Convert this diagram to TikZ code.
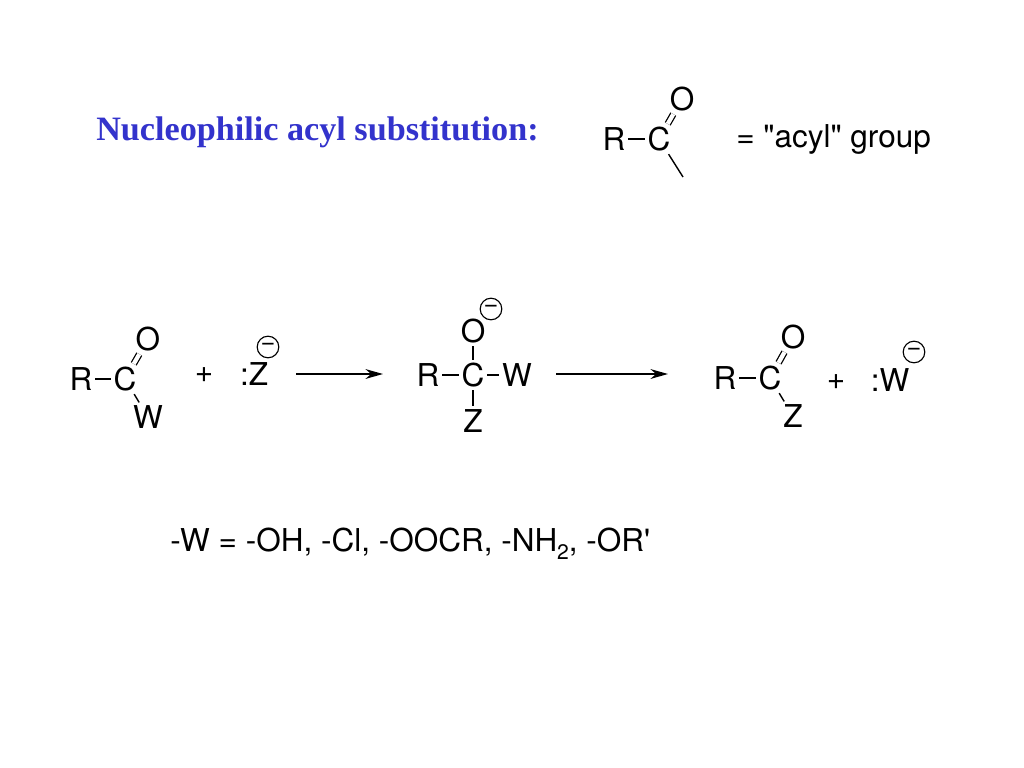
\documentclass[tikz,border=0pt]{standalone}
\usepackage{fontspec}
\newfontfamily\chemfont{TeX Gyre Heros}
\newfontfamily\titlefont{Liberation Serif}
\usetikzlibrary{arrows.meta}
\definecolor{titleblue}{RGB}{51,51,204}
\tikzset{
  atom/.style={inner sep=2pt,font=\chemfont\fontsize{22.4}{26}\selectfont},
  bond/.style={line width=1pt},
  dbond/.style={double,double distance=3pt,line width=0.9pt},
  minus/.style={circle,draw,line width=0.8pt,inner sep=0pt,minimum size=0.54cm,font=\chemfont\fontsize{18}{20}\selectfont},
  rxn/.style={line width=1pt,-{Stealth[length=12.5pt,width=7pt]}}
}
\begin{document}
\begin{tikzpicture}[x=0.025cm,y=-0.025cm]
  \useasboundingbox (0,0) rectangle (1024,768);
  \node[anchor=west,text=titleblue,inner sep=0pt,font=\titlefont\bfseries\fontsize{24.3}{28}\selectfont] (title) at (96,132) {Nucleophilic acyl substitution:};
  % acyl group
  \node[atom] (r0) at (614,139) {R};
  \node[atom] (c0) at (659,139) {C};
  \node[atom] (o0) at (682,99) {O};
  \coordinate (e0) at (683,177);
  \node[atom,anchor=west,inner sep=0pt] (acyl) at (736,139) {= "acyl" group};
  \draw[bond] (r0) -- (c0);
  \draw[dbond] (c0) -- (o0);
  \draw[bond] (c0) -- (e0);
  % starting material
  \node[atom] (r1) at (81,379) {R};
  \node[atom] (c1) at (125,379) {C};
  \node[atom] (o1) at (148,339) {O};
  \node[atom] (w1) at (148,417) {W};
  \node[atom] (p1) at (204,375) {+};
  \node[atom] (z1) at (254,374) {:Z};
  \node[minus] (m1) at (268,347) {−};
  \draw[bond] (r1) -- (c1);
  \draw[dbond] (c1) -- (o1);
  \draw[bond] (c1) -- (w1);
  \coordinate (a1) at (296,374);
  \coordinate (b1) at (383,374);
  \draw[rxn] (a1) -- (b1);
  % tetrahedral intermediate
  \node[atom] (r2) at (428,375) {R};
  \node[atom] (c2) at (473,375) {C};
  \node[atom] (w2) at (517,375) {W};
  \node[atom] (o2) at (473,331) {O};
  \node[atom] (z2) at (473,421) {Z};
  \node[minus] (m2) at (491,309) {−};
  \draw[bond] (r2) -- (c2);
  \draw[bond] (c2) -- (w2);
  \draw[bond] (c2) -- (o2);
  \draw[bond] (c2) -- (z2);
  \coordinate (a2) at (556,374);
  \coordinate (b2) at (668,374);
  \draw[rxn] (a2) -- (b2);
  % product
  \node[atom] (r3) at (725,378) {R};
  \node[atom] (c3) at (770,378) {C};
  \node[atom] (o3) at (793,337) {O};
  \node[atom] (z3) at (793,416) {Z};
  \node[atom] (p3) at (836,382) {+};
  \node[atom] (w3) at (890,380) {:W};
  \node[minus] (m3) at (914,352) {−};
  \draw[bond] (r3) -- (c3);
  \draw[dbond] (c3) -- (o3);
  \draw[bond] (c3) -- (z3);
  % leaving groups
  \node[atom,anchor=west,inner sep=0pt] (list) at (170,544) {-W = -OH, -Cl, -OOCR, -NH\raisebox{-0.25em}{\fontsize{15}{17}\selectfont 2}, -OR'};
\end{tikzpicture}
\end{document}
